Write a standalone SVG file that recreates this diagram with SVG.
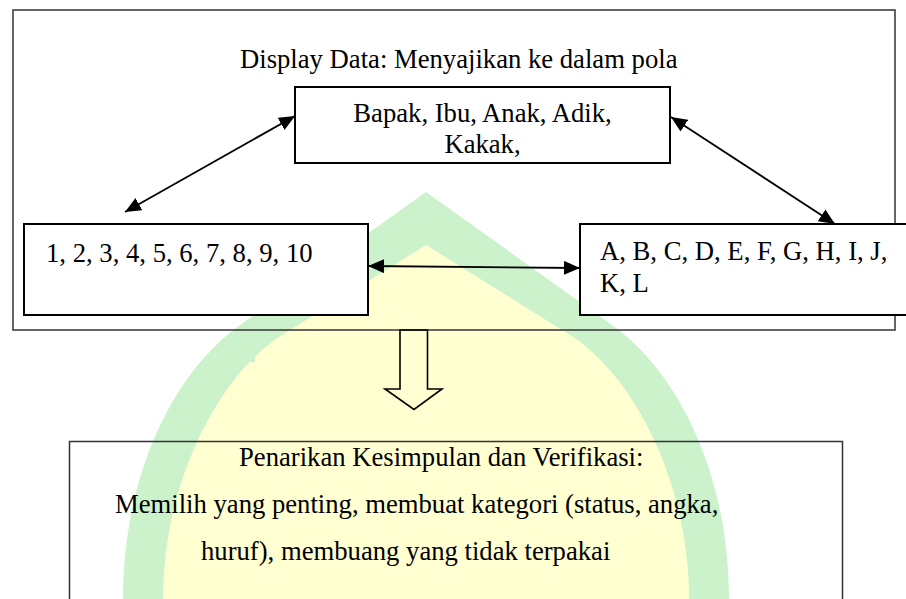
<svg xmlns="http://www.w3.org/2000/svg" width="906" height="599" viewBox="0 0 906 599">
<style>
text{font-family:"Liberation Serif","Times New Roman",serif;font-size:26.67px;fill:#000}
.box{fill:#fff;stroke:#000;stroke-width:2}
.frame{fill:none;stroke:#333;stroke-width:1.5}
.conn{stroke:#000;stroke-width:1.8;fill:none;marker-start:url(#ah);marker-end:url(#ah)}
</style>
<defs>
<marker id="ah" markerUnits="userSpaceOnUse" markerWidth="17" markerHeight="15" refX="16" refY="7" orient="auto-start-reverse">
<path d="M0,0 L16,7 L0,14 z" fill="#000"/>
</marker>
</defs>
<rect width="906" height="599" fill="#fff"/>
<g id="watermark">
<path d="M426,192 L240,325 C170,375 123,480 123,599 L729,599 C729,480 682,375 612,325 Z" fill="#cbf2cb"/>
<path d="M426,245 L282,335 C220,374 163,480 163,599 L689,599 C689,480 632,374 570,335 Z" fill="#ffffd2"/>
</g>
<g id="display-frame">
<rect class="frame" x="13" y="10" width="882" height="320"/>
<text x="240" y="68">Display Data: Menyajikan ke dalam pola</text>
</g>
<g id="node-top">
<rect class="box" x="295" y="87" width="375" height="76"/>
<text x="482.5" y="122" text-anchor="middle">Bapak, Ibu, Anak, Adik,</text>
<text x="482.5" y="153" text-anchor="middle">Kakak,</text>
</g>
<g id="node-left">
<rect class="box" x="24" y="224" width="344" height="91"/>
<text x="46" y="262">1, 2, 3, 4, 5, 6, 7, 8, 9, 10</text>
</g>
<g id="node-right">
<rect class="box" x="580" y="224" width="340" height="91"/>
<text x="600" y="260">A, B, C, D, E, F, G, H, I, J,</text>
<text x="600" y="292">K, L</text>
</g>
<g id="connectors">
<line class="conn" x1="125" y1="212" x2="295" y2="116"/>
<line class="conn" x1="671" y1="117" x2="835" y2="224"/>
<line class="conn" x1="368" y1="266" x2="580" y2="268"/>
<path d="M400,330 L427.5,330 L427.5,389 L442,389 L414,409.5 L385,389 L400,389 Z" fill="none" stroke="#000" stroke-width="1.6" stroke-linejoin="miter"/>
</g>
<g id="node-bottom">
<rect class="frame" x="69.5" y="441.5" width="773" height="170"/>
<text x="239" y="466">Penarikan Kesimpulan dan Verifikasi:</text>
<text x="115" y="513">Memilih yang penting, membuat kategori (status, angka,</text>
<text x="201" y="560">huruf), membuang yang tidak terpakai</text>
</g>
</svg>
